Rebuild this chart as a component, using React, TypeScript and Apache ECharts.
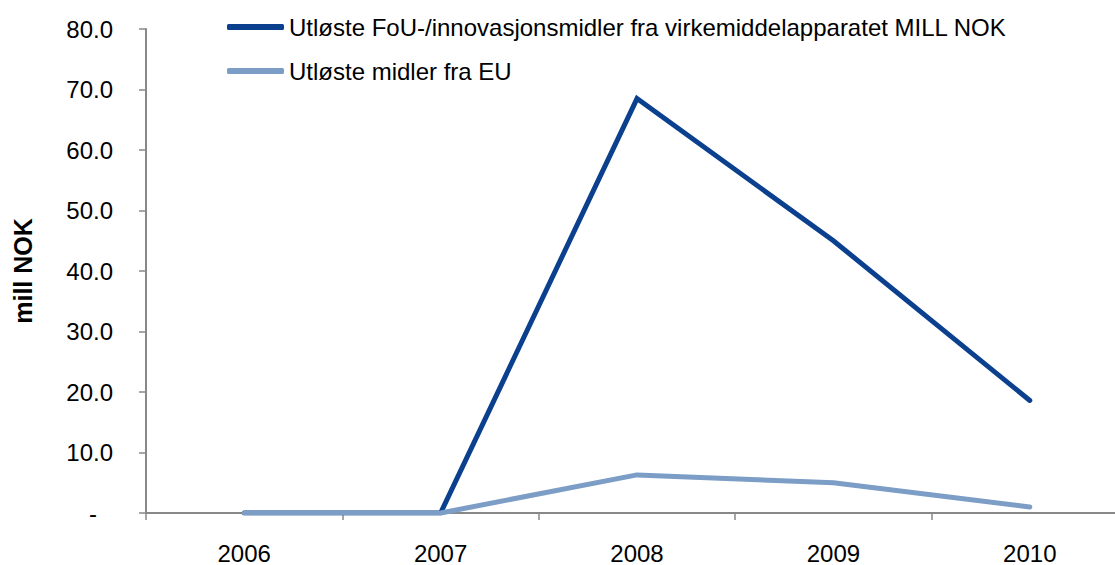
import React, { useEffect, useRef } from "react";
import * as echarts from "echarts";

const years = ["2006", "2007", "2008", "2009", "2010"];
const fouValues = [0, 0, 68.5, 45.0, 18.6];
const euValues = [0, 0, 6.3, 5.0, 1.0];
const seriesNames = [
  "Utløste FoU-/innovasjonsmidler fra virkemiddelapparatet MILL NOK",
  "Utløste midler fra EU",
];

export default function App() {
  const ref = useRef<HTMLDivElement>(null);
  useEffect(() => {
    document.body.style.margin = "0";
    document.body.style.overflow = "hidden";
    document.documentElement.style.overflow = "hidden";
    const chart = echarts.init(ref.current!, null, { renderer: "svg" });
    const font = "Liberation Sans, Arial, sans-serif";
    chart.setOption({
      animation: false,
      backgroundColor: "#ffffff",
      textStyle: { fontFamily: font },
      legend: {
        left: 222,
        top: 10,
        orient: "vertical",
        itemGap: 20,
        itemWidth: 57,
        itemHeight: 6,
        icon: "roundRect",
        textStyle: { fontSize: 24, color: "#000", fontFamily: font },
        data: seriesNames,
      },
      grid: { left: 146, top: 29, bottom: 52, right: 0, containLabel: false },
      xAxis: {
        type: "category",
        data: years,
        boundaryGap: true,
        axisLine: { lineStyle: { color: "#888888", width: 2 } },
        axisTick: { show: true, length: 7, lineStyle: { color: "#888888", width: 1.5 } },
        axisLabel: { fontSize: 24, color: "#000", margin: 28, fontFamily: font },
      },
      yAxis: {
        type: "value",
        min: 0,
        max: 80,
        interval: 10,
        name: "mill NOK",
        nameLocation: "middle",
        nameGap: 111,
        nameRotate: 90,
        nameTextStyle: { fontSize: 25, fontWeight: "bold", color: "#000", fontFamily: font },
        axisLine: { show: true, lineStyle: { color: "#888888", width: 2 } },
        axisTick: { show: true, length: 7, lineStyle: { color: "#888888", width: 1.5 } },
        splitLine: { show: false },
        axisLabel: {
          fontSize: 24,
          color: "#000",
          margin: 33,
          fontFamily: font,
          formatter: (v: number) => (v === 0 ? "{d|-}" : v.toFixed(1)),
          rich: { d: { fontSize: 24, color: "#000", padding: [0, 16, 0, 0] } },
        },
      },
      series: [
        {
          name: seriesNames[0],
          type: "line",
          data: fouValues,
          symbol: "none",
          lineStyle: { color: "#0b408e", width: 5, cap: "round", join: "miter" },
          itemStyle: { color: "#0b408e" },
          z: 3,
        },
        {
          name: seriesNames[1],
          type: "line",
          data: euValues,
          symbol: "none",
          lineStyle: { color: "#7b9dc6", width: 5, cap: "round" },
          itemStyle: { color: "#7b9dc6" },
          z: 4,
        },
      ],
    });
    return () => chart.dispose();
  }, []);
  return <div ref={ref} style={{ width: 1128, height: 565 }} />;
}
